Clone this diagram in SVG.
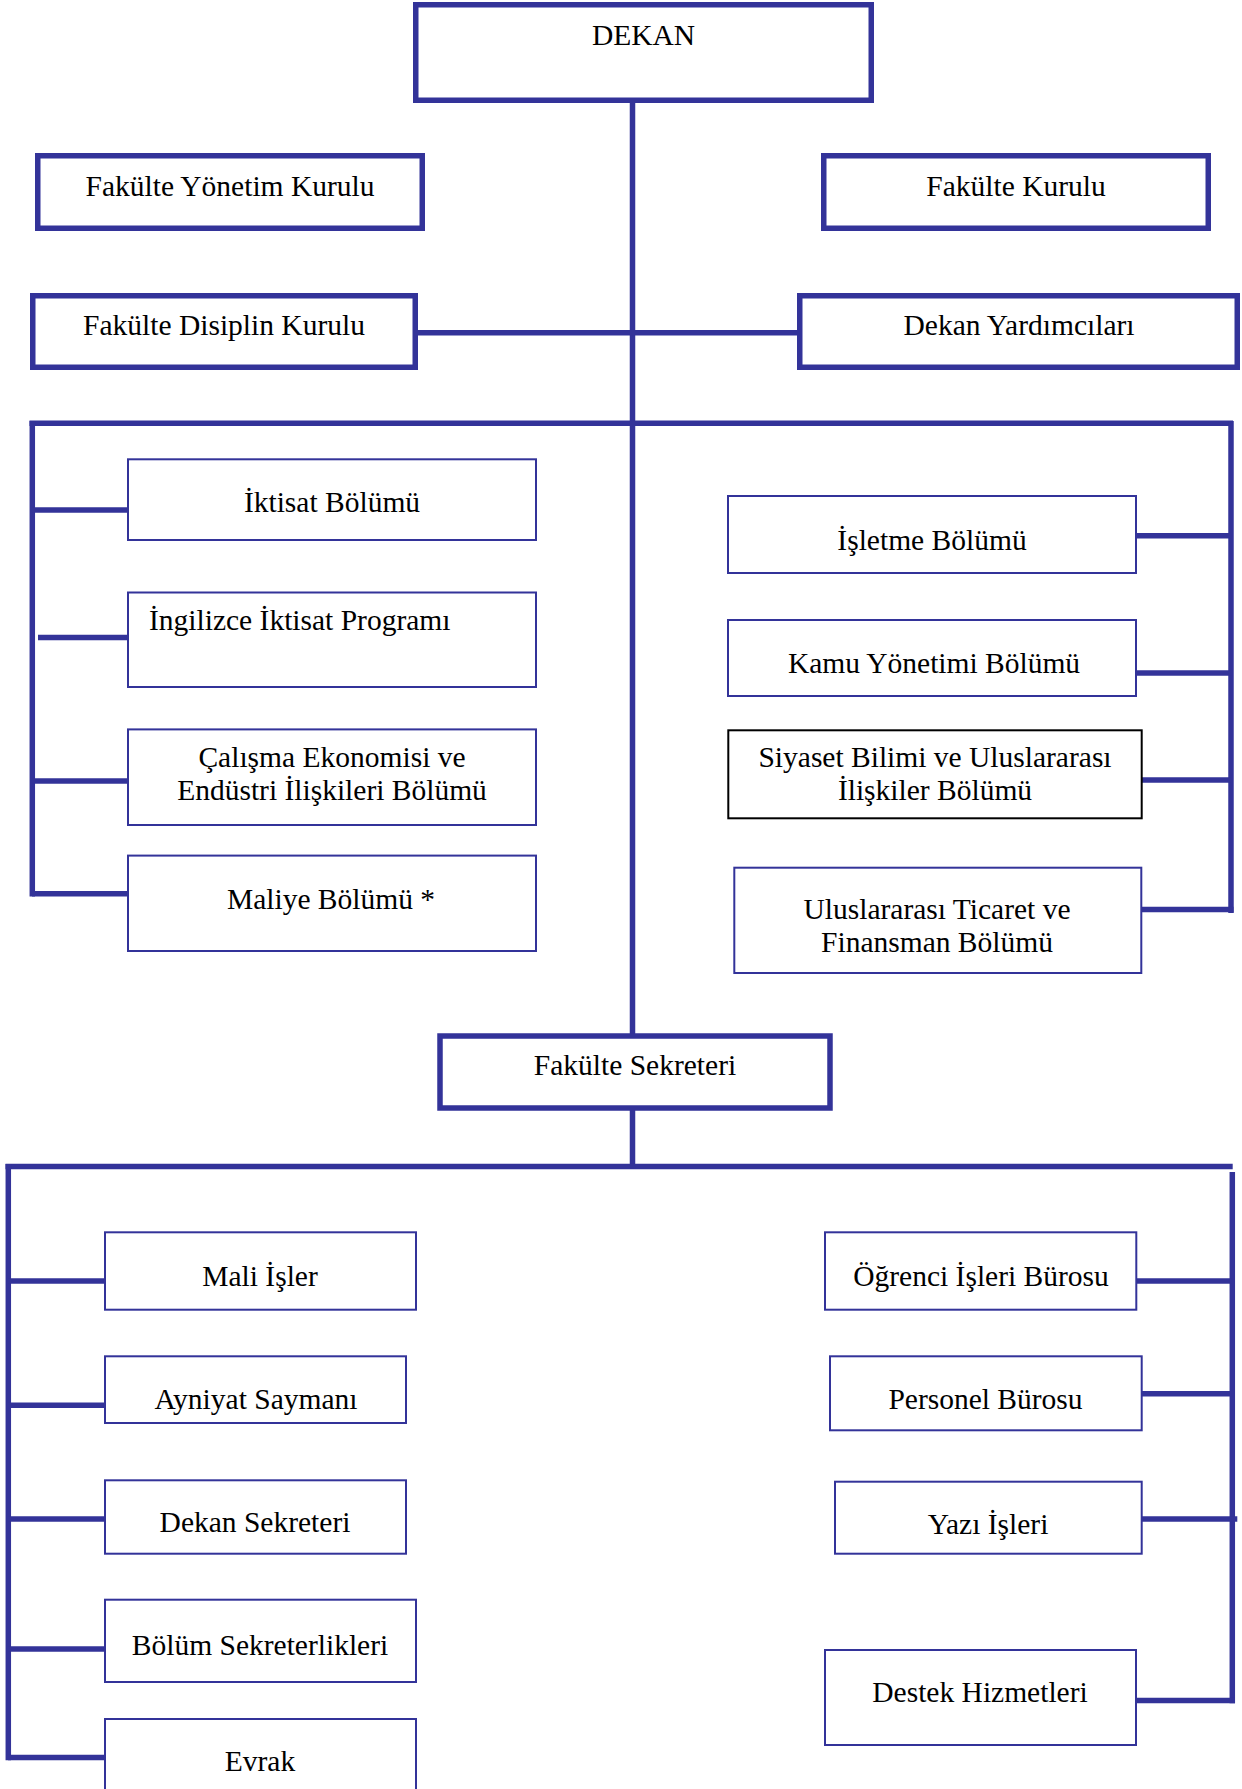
<svg xmlns="http://www.w3.org/2000/svg" width="1242" height="1789" viewBox="0 0 1242 1789">
<style>
.bg{fill:#ffffff}
.thick{fill:#ffffff;stroke:#333399;stroke-width:5.5}
.thin{fill:#ffffff;stroke:#333399;stroke-width:2}
.black{fill:#ffffff;stroke:#000000;stroke-width:2}
.ln{stroke:#333399;stroke-width:5.5;fill:none}
text{font-family:"Liberation Serif","Times New Roman",serif;font-size:29.5px;fill:#000000;text-anchor:middle}
</style>
<rect class="bg" x="0" y="0" width="1242" height="1789"/>
<g id="connectors">
<line class="ln" x1="632.5" y1="100" x2="632.5" y2="1167"/>
<line class="ln" x1="416" y1="332.7" x2="799" y2="332.7"/>
<line class="ln" x1="29.5" y1="423.3" x2="1233" y2="423.3"/>
<line class="ln" x1="32.3" y1="421" x2="32.3" y2="896.5"/>
<line class="ln" x1="1231" y1="421" x2="1231" y2="913"/>
<line class="ln" x1="32" y1="510" x2="128" y2="510"/>
<line class="ln" x1="38" y1="637.5" x2="133" y2="637.5"/>
<line class="ln" x1="32" y1="781" x2="128" y2="781"/>
<line class="ln" x1="32" y1="893.7" x2="128" y2="893.7"/>
<line class="ln" x1="1136" y1="535.7" x2="1231" y2="535.7"/>
<line class="ln" x1="1136" y1="673" x2="1231" y2="673"/>
<line class="ln" x1="1142" y1="780" x2="1231" y2="780"/>
<line class="ln" x1="1142" y1="909.5" x2="1233.5" y2="909.5"/>
<line class="ln" x1="5.5" y1="1166.5" x2="1232.7" y2="1166.5"/>
<line class="ln" x1="8.3" y1="1164" x2="8.3" y2="1760.3"/>
<line class="ln" x1="1232.3" y1="1172" x2="1232.3" y2="1703.3"/>
<line class="ln" x1="8" y1="1281" x2="105" y2="1281"/>
<line class="ln" x1="8" y1="1405.3" x2="105" y2="1405.3"/>
<line class="ln" x1="8" y1="1519" x2="105" y2="1519"/>
<line class="ln" x1="8" y1="1649" x2="105" y2="1649"/>
<line class="ln" x1="8" y1="1757.5" x2="105" y2="1757.5"/>
<line class="ln" x1="1137" y1="1281" x2="1232" y2="1281"/>
<line class="ln" x1="1136" y1="1393.7" x2="1232" y2="1393.7"/>
<line class="ln" x1="1142" y1="1519" x2="1237.3" y2="1519"/>
<line class="ln" x1="1137" y1="1700.5" x2="1235" y2="1700.5"/>
</g>
<g id="dekan"><rect class="thick" x="415.75" y="4.75" width="455.5" height="95.5"/><text x="643.5" y="45">DEKAN</text></g>
<g id="fakulte-yonetim-kurulu"><rect class="thick" x="37.75" y="155.75" width="384.5" height="72.5"/><text x="230" y="196">Fakülte Yönetim Kurulu</text></g>
<g id="fakulte-kurulu"><rect class="thick" x="823.75" y="155.75" width="384.5" height="72.5"/><text x="1016" y="196">Fakülte Kurulu</text></g>
<g id="fakulte-disiplin-kurulu"><rect class="thick" x="32.75" y="295.75" width="382.5" height="71.5"/><text x="224" y="335">Fakülte Disiplin Kurulu</text></g>
<g id="dekan-yardimcilari"><rect class="thick" x="799.75" y="295.75" width="437.5" height="71.5"/><text x="1019" y="335">Dekan Yardımcıları</text></g>
<g id="iktisat"><rect class="thin" x="128" y="459.3" width="408" height="80.7"/><text x="332" y="512">İktisat Bölümü</text></g>
<g id="ingilizce-iktisat"><rect class="thin" x="128" y="592.5" width="408" height="94.5"/><text x="149" y="630" style="text-anchor:start">İngilizce İktisat Programı</text></g>
<g id="calisma-ekonomisi"><rect class="thin" x="128" y="729.4" width="408" height="95.6"/><text x="332" y="767">Çalışma Ekonomisi ve</text><text x="332" y="800">Endüstri İlişkileri Bölümü</text></g>
<g id="maliye"><rect class="thin" x="128" y="855.6" width="408" height="95.4"/><text x="331" y="909">Maliye Bölümü *</text></g>
<g id="isletme"><rect class="thin" x="728" y="496" width="408" height="77"/><text x="932" y="550">İşletme Bölümü</text></g>
<g id="kamu-yonetimi"><rect class="thin" x="728" y="620" width="408" height="76"/><text x="934" y="673">Kamu Yönetimi Bölümü</text></g>
<g id="siyaset-bilimi"><rect class="black" x="728.3" y="730.3" width="413.4" height="88"/><text x="935" y="767">Siyaset Bilimi ve Uluslararası</text><text x="935" y="800">İlişkiler Bölümü</text></g>
<g id="uluslararasi-ticaret"><rect class="thin" x="734.3" y="867.7" width="407" height="105.3"/><text x="937" y="919">Uluslararası Ticaret ve</text><text x="937" y="952">Finansman Bölümü</text></g>
<g id="fakulte-sekreteri"><rect class="thick" x="440" y="1036" width="390" height="72"/><text x="635" y="1075">Fakülte Sekreteri</text></g>
<g id="mali-isler"><rect class="thin" x="105" y="1232.3" width="311" height="77.4"/><text x="260" y="1286">Mali İşler</text></g>
<g id="ayniyat-saymani"><rect class="thin" x="105" y="1356.3" width="301" height="66.7"/><text x="256" y="1409">Ayniyat Saymanı</text></g>
<g id="dekan-sekreteri"><rect class="thin" x="105" y="1480.3" width="301" height="73.4"/><text x="255" y="1532">Dekan Sekreteri</text></g>
<g id="bolum-sekreterlikleri"><rect class="thin" x="105" y="1599.7" width="311" height="82.3"/><text x="260" y="1655">Bölüm Sekreterlikleri</text></g>
<g id="evrak"><rect class="thin" x="105" y="1719" width="311" height="80"/><text x="260" y="1771">Evrak</text></g>
<g id="ogrenci-isleri"><rect class="thin" x="825" y="1232.3" width="311.3" height="77.4"/><text x="981" y="1286">Öğrenci İşleri Bürosu</text></g>
<g id="personel-burosu"><rect class="thin" x="830" y="1356.3" width="311.7" height="74"/><text x="985.5" y="1409">Personel Bürosu</text></g>
<g id="yazi-isleri"><rect class="thin" x="835" y="1481.7" width="306.7" height="72"/><text x="988" y="1534">Yazı İşleri</text></g>
<g id="destek-hizmetleri"><rect class="thin" x="825" y="1650" width="311" height="95"/><text x="980" y="1702">Destek Hizmetleri</text></g>
</svg>
